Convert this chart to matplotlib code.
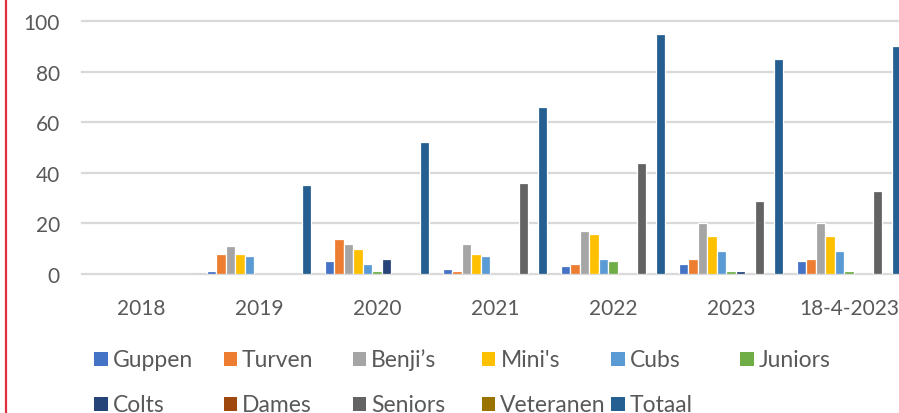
import matplotlib
matplotlib.use("Agg")
import matplotlib.pyplot as plt
from matplotlib.patches import Rectangle
import numpy as np

categories = ["2018", "2019", "2020", "2021", "2022", "2023", "18-4-2023"]
series_names = ["Guppen", "Turven", "Benji\u2019s", "Mini's", "Cubs", "Juniors",
                "Colts", "Dames", "Seniors", "Veteranen", "Totaal"]
guppen    = [0, 1, 5, 2, 3, 4, 5]
turven    = [0, 8, 14, 1, 4, 6, 6]
benjis    = [0, 11, 12, 12, 17, 20, 20]
minis     = [0, 8, 10, 8, 16, 15, 15]
cubs      = [0, 7, 4, 7, 6, 9, 9]
juniors   = [0, 0, 1, 0, 5, 1, 1]
colts     = [0, 0, 6, 0, 0, 1, 0]
dames     = [0, 0, 0, 0, 0, 0, 0]
seniors   = [0, 0, 0, 36, 44, 29, 33]
veteranen = [0, 0, 0, 0, 0, 0, 0]
totaal    = [0, 35, 52, 66, 95, 85, 90]
yticks = [0, 20, 40, 60, 80, 100]

series = [guppen, turven, benjis, minis, cubs, juniors, colts, dames, seniors, veteranen, totaal]
colors = ["#4472C4", "#ED7D31", "#A5A5A5", "#FFC000", "#5B9BD5", "#70AD47",
          "#264478", "#9E480E", "#636363", "#997300", "#255E91"]

FONT = "Lato"
FS_TICK = 15
FS_LEG = 16.5
TXT = "#595959"
W, H = 899, 414
fig = plt.figure(figsize=(W / 100, H / 100), dpi=100)
fig.patch.set_facecolor("white")

ax_left, ax_right, ax_top, ax_bottom = 82, 908, 22, 275
ax = fig.add_axes([ax_left / W, 1 - ax_bottom / H, (ax_right - ax_left) / W, (ax_bottom - ax_top) / H])

x = np.arange(len(categories))
step = 0.0805
for i, (vals, c) in enumerate(zip(series, colors)):
    ax.bar(x + (i - 5) * step, vals, width=step, color=c, edgecolor="white",
           linewidth=0.9, zorder=3)

ax.set_xlim(-0.5, len(categories) - 0.5)
ax.set_ylim(0, 100)
ax.set_yticks(yticks)
ax.set_xticks(x)
ax.set_xticklabels(categories)
for s in ax.spines.values():
    s.set_visible(False)
ax.grid(axis="y", color="#D9D9D9", linewidth=1.6, zorder=0)
for gl in ax.get_ygridlines():
    gl.set_clip_on(False)
ax.tick_params(axis="both", length=0, labelsize=FS_TICK, labelcolor=TXT)
ax.tick_params(axis="y", pad=16)
ax.tick_params(axis="x", pad=17)
for lab in ax.get_xticklabels() + ax.get_yticklabels():
    lab.set_fontfamily(FONT)

# legend drawn in Excel style: uniform columns
col0_x, col_dx = 94.3, 129.2
row_base = [366.7, 411.7]
msz = 13.5
for i, (name, c) in enumerate(zip(series_names, colors)):
    col, row = i % 6, i // 6
    mx = col0_x + col * col_dx
    by = row_base[row]
    fig.patches.append(Rectangle((mx / W, 1 - by / H), msz / W, msz / H,
                                 transform=fig.transFigure, facecolor=c, edgecolor="none"))
    fig.text((mx + msz + 5) / W, 1 - by / H, name, ha="left", va="baseline",
             fontsize=FS_LEG, color=TXT, family=FONT)

# red border line at the left
fig.add_artist(plt.Line2D([6 / W, 6 / W], [0, 1], transform=fig.transFigure,
                          color="#E0303F", linewidth=1.6))

fig.savefig("out.png", dpi=100)
